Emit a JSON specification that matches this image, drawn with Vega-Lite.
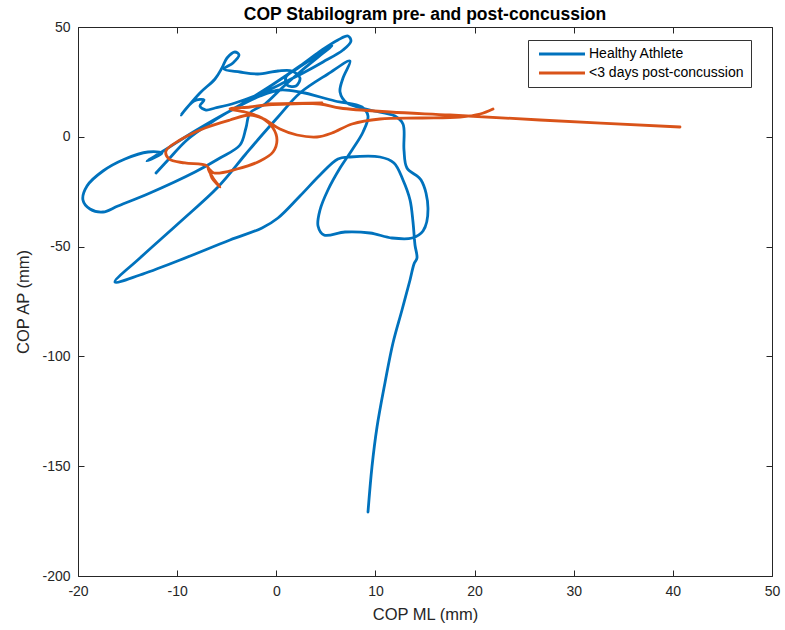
{
  "$schema": "https://vega.github.io/schema/vega-lite/v6.json",
  "autosize": "none",
  "padding": {"left": 78, "top": 27, "right": 13, "bottom": 54},
  "width": 694,
  "height": 549,
  "title": {
    "text": "COP Stabilogram pre- and post-concussion",
    "font": "Liberation Sans",
    "fontSize": 17.5,
    "fontWeight": "bold",
    "color": "#000000",
    "anchor": "middle",
    "offset": -3
  },
  "config": {
    "view": {"stroke": "#262626", "strokeWidth": 1},
    "axis": {
      "domain": false,
      "grid": false,
      "tickColor": "#262626",
      "tickSize": -6,
      "labelFont": "Liberation Sans",
      "labelFontSize": 14,
      "labelColor": "#262626",
      "titleFont": "Liberation Sans",
      "titleFontSize": 16.5,
      "titleFontWeight": "normal",
      "titleColor": "#262626"
    }
  },
  "datasets": {
    "cop": [
      {"group": "Healthy Athlete", "i": 1, "ml": -12.13, "ap": -16.48},
      {"group": "Healthy Athlete", "i": 2, "ml": -10.92, "ap": -10.56},
      {"group": "Healthy Athlete", "i": 3, "ml": -9.01, "ap": -1.46},
      {"group": "Healthy Athlete", "i": 4, "ml": -6.49, "ap": 6.74},
      {"group": "Healthy Athlete", "i": 5, "ml": -3.16, "ap": 15.85},
      {"group": "Healthy Athlete", "i": 6, "ml": -0.43, "ap": 23.59},
      {"group": "Healthy Athlete", "i": 7, "ml": 2.39, "ap": 32.24},
      {"group": "Healthy Athlete", "i": 8, "ml": 4.61, "ap": 39.53},
      {"group": "Healthy Athlete", "i": 9, "ml": 6.22, "ap": 44.08},
      {"group": "Healthy Athlete", "i": 10, "ml": 7.23, "ap": 45.9},
      {"group": "Healthy Athlete", "i": 11, "ml": 7.53, "ap": 43.62},
      {"group": "Healthy Athlete", "i": 12, "ml": 6.73, "ap": 39.53},
      {"group": "Healthy Athlete", "i": 13, "ml": 4.71, "ap": 34.06},
      {"group": "Healthy Athlete", "i": 14, "ml": 2.89, "ap": 29.51},
      {"group": "Healthy Athlete", "i": 15, "ml": 0.88, "ap": 24.95},
      {"group": "Healthy Athlete", "i": 16, "ml": -1.44, "ap": 19.95},
      {"group": "Healthy Athlete", "i": 17, "ml": -4.17, "ap": 15.39},
      {"group": "Healthy Athlete", "i": 18, "ml": -6.18, "ap": 13.11},
      {"group": "Healthy Athlete", "i": 19, "ml": -7.09, "ap": 12.2},
      {"group": "Healthy Athlete", "i": 20, "ml": -7.7, "ap": 14.03},
      {"group": "Healthy Athlete", "i": 21, "ml": -7.29, "ap": 16.76},
      {"group": "Healthy Athlete", "i": 22, "ml": -8.3, "ap": 16.3},
      {"group": "Healthy Athlete", "i": 23, "ml": -9.61, "ap": 9.93},
      {"group": "Healthy Athlete", "i": 24, "ml": -7.7, "ap": 19.95},
      {"group": "Healthy Athlete", "i": 25, "ml": -6.18, "ap": 26.32},
      {"group": "Healthy Athlete", "i": 26, "ml": -5.48, "ap": 31.33},
      {"group": "Healthy Athlete", "i": 27, "ml": -4.97, "ap": 35.88},
      {"group": "Healthy Athlete", "i": 28, "ml": -4.17, "ap": 38.62},
      {"group": "Healthy Athlete", "i": 29, "ml": -3.76, "ap": 37.25},
      {"group": "Healthy Athlete", "i": 30, "ml": -4.37, "ap": 33.61},
      {"group": "Healthy Athlete", "i": 31, "ml": -5.28, "ap": 30.87},
      {"group": "Healthy Athlete", "i": 32, "ml": -3.66, "ap": 29.51},
      {"group": "Healthy Athlete", "i": 33, "ml": -1.85, "ap": 28.6},
      {"group": "Healthy Athlete", "i": 34, "ml": 0.17, "ap": 29.96},
      {"group": "Healthy Athlete", "i": 35, "ml": 1.58, "ap": 29.96},
      {"group": "Healthy Athlete", "i": 36, "ml": 2.39, "ap": 26.78},
      {"group": "Healthy Athlete", "i": 37, "ml": 1.99, "ap": 23.13},
      {"group": "Healthy Athlete", "i": 38, "ml": 1.08, "ap": 23.59},
      {"group": "Healthy Athlete", "i": 39, "ml": 0.98, "ap": 27.23},
      {"group": "Healthy Athlete", "i": 40, "ml": 2.19, "ap": 31.33},
      {"group": "Healthy Athlete", "i": 41, "ml": 4.21, "ap": 37.25},
      {"group": "Healthy Athlete", "i": 42, "ml": 5.62, "ap": 41.35},
      {"group": "Healthy Athlete", "i": 43, "ml": 4.61, "ap": 37.7},
      {"group": "Healthy Athlete", "i": 44, "ml": 2.39, "ap": 29.51},
      {"group": "Healthy Athlete", "i": 45, "ml": 0.57, "ap": 22.22},
      {"group": "Healthy Athlete", "i": 46, "ml": -1.14, "ap": 14.94},
      {"group": "Healthy Athlete", "i": 47, "ml": -2.65, "ap": 10.84},
      {"group": "Healthy Athlete", "i": 48, "ml": -3.06, "ap": 4.01},
      {"group": "Healthy Athlete", "i": 49, "ml": -3.66, "ap": -3.73},
      {"group": "Healthy Athlete", "i": 50, "ml": -5.68, "ap": -9.65},
      {"group": "Healthy Athlete", "i": 51, "ml": -8.2, "ap": -16.03},
      {"group": "Healthy Athlete", "i": 52, "ml": -12.74, "ap": -25.59},
      {"group": "Healthy Athlete", "i": 53, "ml": -15.97, "ap": -31.51},
      {"group": "Healthy Athlete", "i": 54, "ml": -17.48, "ap": -34.24},
      {"group": "Healthy Athlete", "i": 55, "ml": -18.79, "ap": -32.88},
      {"group": "Healthy Athlete", "i": 56, "ml": -19.5, "ap": -28.78},
      {"group": "Healthy Athlete", "i": 57, "ml": -19.09, "ap": -22.4},
      {"group": "Healthy Athlete", "i": 58, "ml": -17.48, "ap": -15.57},
      {"group": "Healthy Athlete", "i": 59, "ml": -15.26, "ap": -10.11},
      {"group": "Healthy Athlete", "i": 60, "ml": -12.94, "ap": -6.92},
      {"group": "Healthy Athlete", "i": 61, "ml": -11.53, "ap": -7.38},
      {"group": "Healthy Athlete", "i": 62, "ml": -13.04, "ap": -11.02},
      {"group": "Healthy Athlete", "i": 63, "ml": -11.23, "ap": -6.01},
      {"group": "Healthy Athlete", "i": 64, "ml": -8.2, "ap": 2.64},
      {"group": "Healthy Athlete", "i": 65, "ml": -4.67, "ap": 11.75},
      {"group": "Healthy Athlete", "i": 66, "ml": -1.64, "ap": 18.58},
      {"group": "Healthy Athlete", "i": 67, "ml": 0.37, "ap": 21.31},
      {"group": "Healthy Athlete", "i": 68, "ml": 2.39, "ap": 20.4},
      {"group": "Healthy Athlete", "i": 69, "ml": 5.92, "ap": 16.3},
      {"group": "Healthy Athlete", "i": 70, "ml": 8.64, "ap": 13.57},
      {"group": "Healthy Athlete", "i": 71, "ml": 9.25, "ap": 9.47},
      {"group": "Healthy Athlete", "i": 72, "ml": 8.75, "ap": 2.19},
      {"group": "Healthy Athlete", "i": 73, "ml": 7.64, "ap": -6.01},
      {"group": "Healthy Athlete", "i": 74, "ml": 6.43, "ap": -14.21},
      {"group": "Healthy Athlete", "i": 75, "ml": 5.21, "ap": -24.23},
      {"group": "Healthy Athlete", "i": 76, "ml": 4.41, "ap": -33.33},
      {"group": "Healthy Athlete", "i": 77, "ml": 4.21, "ap": -40.62},
      {"group": "Healthy Athlete", "i": 78, "ml": 4.81, "ap": -44.72},
      {"group": "Healthy Athlete", "i": 79, "ml": 6.93, "ap": -43.35},
      {"group": "Healthy Athlete", "i": 80, "ml": 9.45, "ap": -43.81},
      {"group": "Healthy Athlete", "i": 81, "ml": 11.67, "ap": -46.08},
      {"group": "Healthy Athlete", "i": 82, "ml": 13.69, "ap": -46.08},
      {"group": "Healthy Athlete", "i": 83, "ml": 14.8, "ap": -42.9},
      {"group": "Healthy Athlete", "i": 84, "ml": 15.3, "ap": -32.42},
      {"group": "Healthy Athlete", "i": 85, "ml": 14.6, "ap": -19.67},
      {"group": "Healthy Athlete", "i": 86, "ml": 13.18, "ap": -14.21},
      {"group": "Healthy Athlete", "i": 87, "ml": 12.88, "ap": -6.01},
      {"group": "Healthy Athlete", "i": 88, "ml": 12.78, "ap": 5.83},
      {"group": "Healthy Athlete", "i": 89, "ml": 11.97, "ap": 9.47},
      {"group": "Healthy Athlete", "i": 90, "ml": 9.45, "ap": 12.2},
      {"group": "Healthy Athlete", "i": 91, "ml": 7.13, "ap": 15.39},
      {"group": "Healthy Athlete", "i": 92, "ml": 6.43, "ap": 20.4},
      {"group": "Healthy Athlete", "i": 93, "ml": 6.73, "ap": 26.78},
      {"group": "Healthy Athlete", "i": 94, "ml": 7.43, "ap": 34.52},
      {"group": "Healthy Athlete", "i": 95, "ml": 5.21, "ap": 28.6},
      {"group": "Healthy Athlete", "i": 96, "ml": 2.39, "ap": 19.95},
      {"group": "Healthy Athlete", "i": 97, "ml": 0.17, "ap": 9.02},
      {"group": "Healthy Athlete", "i": 98, "ml": -1.44, "ap": 0.82},
      {"group": "Healthy Athlete", "i": 99, "ml": -3.16, "ap": -8.29},
      {"group": "Healthy Athlete", "i": 100, "ml": -5.88, "ap": -22.86},
      {"group": "Healthy Athlete", "i": 101, "ml": -9.71, "ap": -38.8},
      {"group": "Healthy Athlete", "i": 102, "ml": -13.75, "ap": -55.19},
      {"group": "Healthy Athlete", "i": 103, "ml": -16.27, "ap": -66.12},
      {"group": "Healthy Athlete", "i": 104, "ml": -13.75, "ap": -62.93},
      {"group": "Healthy Athlete", "i": 105, "ml": -9.71, "ap": -56.1},
      {"group": "Healthy Athlete", "i": 106, "ml": -4.67, "ap": -46.99},
      {"group": "Healthy Athlete", "i": 107, "ml": -1.44, "ap": -41.53},
      {"group": "Healthy Athlete", "i": 108, "ml": 0.17, "ap": -36.98},
      {"group": "Healthy Athlete", "i": 109, "ml": 2.39, "ap": -26.96},
      {"group": "Healthy Athlete", "i": 110, "ml": 4.41, "ap": -17.4},
      {"group": "Healthy Athlete", "i": 111, "ml": 6.22, "ap": -10.11},
      {"group": "Healthy Athlete", "i": 112, "ml": 7.43, "ap": -9.2},
      {"group": "Healthy Athlete", "i": 113, "ml": 10.46, "ap": -9.2},
      {"group": "Healthy Athlete", "i": 114, "ml": 11.87, "ap": -11.93},
      {"group": "Healthy Athlete", "i": 115, "ml": 12.78, "ap": -19.67},
      {"group": "Healthy Athlete", "i": 116, "ml": 13.49, "ap": -28.78},
      {"group": "Healthy Athlete", "i": 117, "ml": 13.79, "ap": -38.8},
      {"group": "Healthy Athlete", "i": 118, "ml": 13.99, "ap": -49.27},
      {"group": "Healthy Athlete", "i": 119, "ml": 14.19, "ap": -55.19},
      {"group": "Healthy Athlete", "i": 120, "ml": 13.89, "ap": -57.92},
      {"group": "Healthy Athlete", "i": 121, "ml": 13.49, "ap": -65.21},
      {"group": "Healthy Athlete", "i": 122, "ml": 12.68, "ap": -78.87},
      {"group": "Healthy Athlete", "i": 123, "ml": 11.77, "ap": -93.9},
      {"group": "Healthy Athlete", "i": 124, "ml": 10.96, "ap": -112.11},
      {"group": "Healthy Athlete", "i": 125, "ml": 10.16, "ap": -132.15},
      {"group": "Healthy Athlete", "i": 126, "ml": 9.65, "ap": -150.36},
      {"group": "Healthy Athlete", "i": 127, "ml": 9.25, "ap": -170.86},
      {"group": "<3 days post-concussion", "i": 1, "ml": 40.72, "ap": 4.46},
      {"group": "<3 days post-concussion", "i": 2, "ml": 26.6, "ap": 7.65},
      {"group": "<3 days post-concussion", "i": 3, "ml": 17.52, "ap": 9.93},
      {"group": "<3 days post-concussion", "i": 4, "ml": 11.47, "ap": 11.29},
      {"group": "<3 days post-concussion", "i": 5, "ml": 6.43, "ap": 13.11},
      {"group": "<3 days post-concussion", "i": 6, "ml": 4.41, "ap": 14.94},
      {"group": "<3 days post-concussion", "i": 7, "ml": -0.84, "ap": 14.94},
      {"group": "<3 days post-concussion", "i": 8, "ml": 4.61, "ap": 15.39},
      {"group": "<3 days post-concussion", "i": 9, "ml": -1.04, "ap": 14.48},
      {"group": "<3 days post-concussion", "i": 10, "ml": -2.65, "ap": 13.57},
      {"group": "<3 days post-concussion", "i": 11, "ml": -4.67, "ap": 12.66},
      {"group": "<3 days post-concussion", "i": 12, "ml": -3.16, "ap": 11.29},
      {"group": "<3 days post-concussion", "i": 13, "ml": -1.44, "ap": 8.56},
      {"group": "<3 days post-concussion", "i": 14, "ml": -0.33, "ap": 4.01},
      {"group": "<3 days post-concussion", "i": 15, "ml": 0.07, "ap": -1.46},
      {"group": "<3 days post-concussion", "i": 16, "ml": -0.33, "ap": -6.92},
      {"group": "<3 days post-concussion", "i": 17, "ml": -1.64, "ap": -11.02},
      {"group": "<3 days post-concussion", "i": 18, "ml": -3.96, "ap": -14.66},
      {"group": "<3 days post-concussion", "i": 19, "ml": -6.28, "ap": -16.48},
      {"group": "<3 days post-concussion", "i": 20, "ml": -6.89, "ap": -14.21},
      {"group": "<3 days post-concussion", "i": 21, "ml": -6.38, "ap": -18.76},
      {"group": "<3 days post-concussion", "i": 22, "ml": -5.68, "ap": -22.86},
      {"group": "<3 days post-concussion", "i": 23, "ml": -6.49, "ap": -18.76},
      {"group": "<3 days post-concussion", "i": 24, "ml": -6.99, "ap": -13.3},
      {"group": "<3 days post-concussion", "i": 25, "ml": -9.21, "ap": -11.93},
      {"group": "<3 days post-concussion", "i": 26, "ml": -10.82, "ap": -10.11},
      {"group": "<3 days post-concussion", "i": 27, "ml": -11.13, "ap": -6.47},
      {"group": "<3 days post-concussion", "i": 28, "ml": -9.71, "ap": -1.46},
      {"group": "<3 days post-concussion", "i": 29, "ml": -7.19, "ap": 4.01},
      {"group": "<3 days post-concussion", "i": 30, "ml": -4.67, "ap": 7.65},
      {"group": "<3 days post-concussion", "i": 31, "ml": -2.65, "ap": 9.93},
      {"group": "<3 days post-concussion", "i": 32, "ml": -1.24, "ap": 8.11},
      {"group": "<3 days post-concussion", "i": 33, "ml": 0.37, "ap": 3.55},
      {"group": "<3 days post-concussion", "i": 34, "ml": 2.09, "ap": 0.82},
      {"group": "<3 days post-concussion", "i": 35, "ml": 4.11, "ap": -0.09},
      {"group": "<3 days post-concussion", "i": 36, "ml": 5.62, "ap": 1.73},
      {"group": "<3 days post-concussion", "i": 37, "ml": 7.64, "ap": 5.83},
      {"group": "<3 days post-concussion", "i": 38, "ml": 10.46, "ap": 8.11},
      {"group": "<3 days post-concussion", "i": 39, "ml": 14.49, "ap": 8.56},
      {"group": "<3 days post-concussion", "i": 40, "ml": 18.53, "ap": 9.02},
      {"group": "<3 days post-concussion", "i": 41, "ml": 20.55, "ap": 10.38},
      {"group": "<3 days post-concussion", "i": 42, "ml": 21.86, "ap": 12.66}
    ]
  },
  "data": {"name": "cop"},
  "layer": [
    {
      "mark": {"type": "line", "interpolate": "catmull-rom", "strokeWidth": 2.8, "strokeJoin": "round", "strokeCap": "round"},
      "encoding": {
        "x": {
          "field": "ml", "type": "quantitative",
          "scale": {"domain": [-20, 50], "nice": false, "zero": false},
          "axis": {"orient": "bottom", "title": "COP ML (mm)", "values": [-20, -10, 0, 10, 20, 30, 40, 50], "labelExpr": "'' + datum.value", "labelPadding": 14, "titlePadding": 8, "labelFlush": false}
        },
        "y": {
          "field": "ap", "type": "quantitative",
          "scale": {"domain": [-200, 50], "nice": false, "zero": false},
          "axis": {"orient": "left", "title": "COP AP (mm)", "values": [-200, -150, -100, -50, 0, 50], "labelExpr": "'' + datum.value", "labelPadding": 14, "titlePadding": 10, "labelFlush": false}
        },
        "color": {
          "field": "group", "type": "nominal",
          "scale": {"domain": ["Healthy Athlete", "<3 days post-concussion"], "range": ["#0072BD", "#D95319"]},
          "legend": {
            "title": null,
            "orient": "none",
            "legendX": 450,
            "legendY": 13,
            "fillColor": "#ffffff",
            "strokeColor": "#333333",
            "padding": 7,
            "symbolType": "M-4.6,0H4.6",
            "symbolSize": 100,
            "symbolStrokeWidth": 3,
            "symbolOffset": 20,
            "labelFont": "Liberation Sans",
            "labelFontSize": 14,
            "labelColor": "#000000",
            "labelOffset": 20,
            "rowPadding": 5
          }
        },
        "order": {"field": "i", "type": "quantitative"}
      }
    },
    {
      "mark": {"type": "point", "opacity": 0},
      "encoding": {
        "x": {
          "field": "ml", "type": "quantitative",
          "axis": {"orient": "top", "title": null, "labels": false, "minExtent": 0, "maxExtent": 0, "values": [-20, -10, 0, 10, 20, 30, 40, 50]}
        },
        "y": {
          "field": "ap", "type": "quantitative",
          "axis": {"orient": "right", "title": null, "labels": false, "minExtent": 0, "maxExtent": 0, "values": [-200, -150, -100, -50, 0, 50]}
        }
      }
    }
  ],
  "resolve": {"axis": {"x": "independent", "y": "independent"}}
}
